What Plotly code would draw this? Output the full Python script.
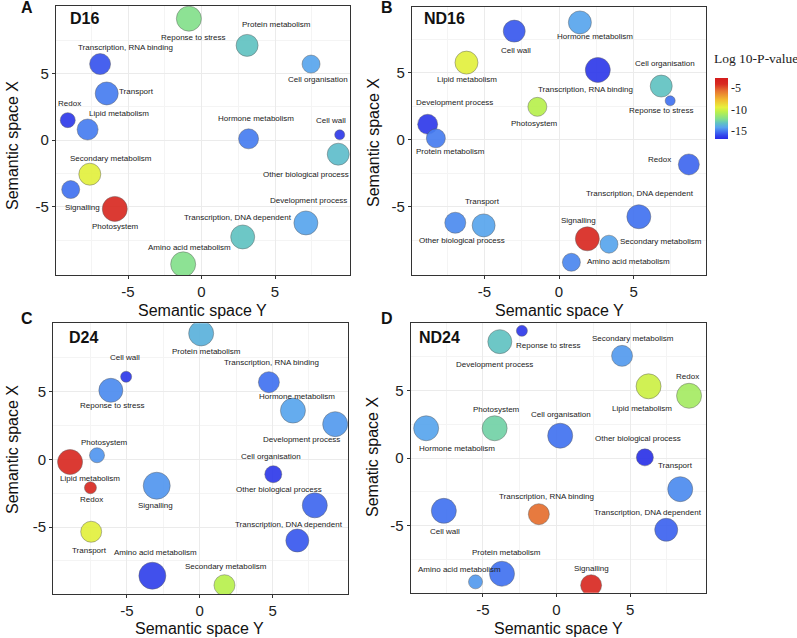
import plotly.graph_objects as go

W, H = 797, 638

# ---------------- DATA ----------------
a_terms = ["Reponse to stress", "Protein metabolism", "Transcription, RNA binding", "Cell organisation",
           "Transport", "Redox", "Lipid metabolism", "Hormone metabolism", "Cell wall",
           "Other biological process", "Secondary metabolism", "Signalling", "Photosystem",
           "Development process", "Transcription, DNA dependent", "Amino acid metabolism"]
a_x = [-0.86, 3.1, -6.9, 7.45, -6.45, -9.1, -7.75, 3.2, 9.4, 9.3, -7.6, -8.9, -5.9, 7.1, 2.8, -1.25]
a_y = [9.1, 7.1, 5.7, 5.7, 3.5, 1.5, 0.8, 0.1, 0.4, -1.05, -2.55, -3.7, -5.15, -6.2, -7.25, -9.3]
a_size = [25, 22, 21, 18, 23, 15, 21, 20, 10, 22, 22, 18, 25, 24, 24, 25]
a_logp = [-12, -13, -15.6, -14, -14.8, -16.2, -14.8, -14.8, -16.2, -13.2, -9.5, -15, -4, -14, -13, -12]

b_terms = ["Cell wall", "Hormone metabolism", "Lipid metabolism", "Transcription, RNA binding",
           "Cell organisation", "Reponse to stress", "Development process", "Photosystem",
           "Protein metabolism", "Redox", "Transcription, DNA dependent", "Transport",
           "Other biological process", "Signalling", "Secondary metabolism", "Amino acid metabolism"]
b_x = [-3.0, 1.4, -6.2, 2.6, 6.85, 7.45, -8.8, -1.45, -8.25, 8.7, 5.35, -5.05, -6.95, 1.9, 3.35, 0.83]
b_y = [8.1, 8.75, 5.75, 5.2, 4.0, 2.9, 1.15, 2.45, 0.1, -1.85, -5.75, -6.4, -6.2, -7.4, -7.8, -9.15]
b_size = [22, 23, 23, 25, 22, 10, 20, 19, 19, 21, 24, 23, 21, 24, 18, 18]
b_logp = [-15.5, -14, -9.5, -16.2, -13, -15, -16.2, -10.5, -14.8, -15.2, -15, -14, -14.5, -4, -14, -14.6]

c_terms = ["Protein metabolism", "Cell wall", "Reponse to stress", "Transcription, RNA binding",
           "Hormone metabolism", "Development process", "Photosystem", "Lipid metabolism", "Redox",
           "Signalling", "Cell organisation", "Other biological process", "Transcription, DNA dependent",
           "Transport", "Amino acid metabolism", "Secondary metabolism"]
c_x = [0.1, -5.05, -6.1, 4.75, 6.4, 9.3, -7.05, -8.9, -7.5, -2.95, 5.05, 7.9, 6.7, -7.45, -3.25, 1.7]
c_y = [9.3, 6.1, 5.1, 5.7, 3.6, 2.6, 0.3, -0.2, -2.1, -1.95, -1.1, -3.4, -6.0, -5.35, -8.6, -9.3]
c_size = [25, 11, 24, 21, 25, 25, 15, 25, 12, 27, 17, 25, 23, 21, 27, 21]
c_logp = [-13.6, -16.2, -14.5, -15, -14, -14.2, -14.3, -4, -4, -14.3, -16.2, -15.2, -15.5, -9.5, -16, -10.5]

d_terms = ["Reponse to stress", "Development process", "Secondary metabolism", "Lipid metabolism",
           "Redox", "Photosystem", "Hormone metabolism", "Cell organisation", "Other biological process",
           "Transport", "Cell wall", "Transcription, RNA binding", "Transcription, DNA dependent",
           "Protein metabolism", "Amino acid metabolism", "Signalling"]
d_x = [-2.35, -3.85, 4.45, 6.25, 9.0, -4.2, -8.85, 0.25, 6.0, 8.4, -7.65, -1.2, 7.45, -3.7, -5.5, 2.35]
d_y = [9.4, 8.6, 7.55, 5.3, 4.6, 2.2, 2.2, 1.65, 0.05, -2.3, -3.9, -4.15, -5.3, -8.55, -9.15, -9.4]
d_size = [11, 24, 21, 25, 25, 25, 25, 25, 17, 25, 25, 21, 23, 25, 14, 21]
d_logp = [-16.2, -13, -14.2, -10, -11, -12.5, -14, -15, -16.4, -14.5, -15, -5.5, -15.3, -15, -14.2, -4]

tick_vals = [-5, 0, 5]
tick_text = ["-5", "0", "5"]
cbar_vals = [-5, -10, -15]
cbar_text = ["-5", "-10", "-15"]

# ---------------- STYLE / LAYOUT ----------------
# label offsets (px) relative to each bubble: (dx, dy_up)
a_off = [(4, -19), (29, 21), (25, 17), (7, -15), (30, 2), (2, 17), (31, 16), (7, 20), (-9, 14), (-32, -20),
         (21, 16), (12, -18), (1, -18), (3, 22), (-5, 19), (6, 17)]
b_off = [(2, -19), (15, -14), (1, -17), (-12, -20), (4, 23), (-9, -10), (27, 22), (-3, -17), (15, -13), (-29, 5),
         (1, 23), (-1, 24), (7, -18), (-9, 18), (52, 3), (57, 1)]
c_off = [(5, -18), (-1, 19), (1, -15), (3, 20), (4, 14), (-34, -15), (7, 13), (20, -16), (1, -12), (-1, -20),
         (-2, 18), (-36, 16), (-8, 16), (-2, -19), (3, 23), (2, 19)]
d_off = [(26, -15), (-5, -23), (11, 17), (-7, -22), (-2, 19), (2, 19), (31, -20), (1, 21), (-7, 19), (-5, 24),
         (1, -21), (8, 18), (-18, 17), (4, 21), (-16, 12), (0, 17)]

# pixel boxes of the panels: (left, right, top, bottom)
boxes = [(56, 350, 6, 275), (412, 706, 7, 275), (53.3, 348.3, 323.3, 594), (410.7, 706, 322.7, 592.7)]
xranges = [[-9.9, 10.1], [-9.85, 9.85], [-10.05, 10.2], [-9.9, 10.15]]
yranges = [[-10.1, 10.05], [-10.1, 9.9], [-9.95, 10.05], [-9.95, 10.0]]

colorscale = [[0.0, '#2828e6'], [0.06, '#3347ec'], [0.12, '#4272f0'], [0.19, '#58a4ee'],
              [0.26, '#60c2c4'], [0.33, '#82e08e'], [0.44, '#b8f04e'], [0.52, '#e8f03c'],
              [0.65, '#f2b830'], [0.79, '#e67230'], [0.9, '#d82a22'], [1.0, '#d41c1c']]

SANS = "Liberation Sans, Arial, sans-serif"
SERIF = "Liberation Serif, Times New Roman, serif"


def px_x(p):
    return p / W


def px_y(p):
    return (H - p) / H


panels = [
    (a_terms, a_x, a_y, a_size, a_logp, a_off, "D16", "A", "Semantic space X"),
    (b_terms, b_x, b_y, b_size, b_logp, b_off, "ND16", "B", "Semantic space X"),
    (c_terms, c_x, c_y, c_size, c_logp, c_off, "D24", "C", "Semantic space X"),
    (d_terms, d_x, d_y, d_size, d_logp, d_off, "ND24", "D", "Sematic space X"),
]
letter_pos = [(27, 7), (387, 8), (27, 318), (387, 318)]
title_pos = [(68, 19), (422, 18), (67, 337), (417, 337)]
xt_pos = [(202, 310), (559, 310), (199, 628), (558, 628)]
yt_pos = [(13, 146), (373, 143), (12, 450), (372, 457)]

fig = go.Figure()
annotations = []
layout_axes = {}


def paper_text(x, y, text, size, family=SANS, xanchor="center", angle=0, color="#111"):
    return dict(x=px_x(x), y=px_y(y), xref="paper", yref="paper", text=text, showarrow=False,
                xanchor=xanchor, yanchor="middle", textangle=angle,
                font=dict(family=family, size=size, color=color))


for i, (terms, xs, ys, sz, lp, off, ptitle, letter, ytitle) in enumerate(panels):
    n = "" if i == 0 else str(i + 1)
    xa, ya = "x" + n, "y" + n
    left, right, top, bottom = boxes[i]
    fig.add_trace(go.Scatter(
        x=xs, y=ys, mode="markers", xaxis=xa, yaxis=ya, text=terms,
        marker=dict(size=sz, sizemode="diameter", color=lp, coloraxis="coloraxis",
                    opacity=0.92, line=dict(color="rgba(80,80,80,0.45)", width=1)),
        hovertemplate="%{text}<br>log10 p = %{marker.color}<extra></extra>",
        showlegend=False))
    for t, xv, yv, (dx, dy) in zip(terms, xs, ys, off):
        annotations.append(dict(x=xv, y=yv, xref=xa, yref=ya, text=t, showarrow=False,
                                xanchor="center", yanchor="middle",
                                xshift=dx, yshift=dy, font=dict(family=SANS, size=8, color="#222")))
    axis_common = dict(showline=True, linecolor="#333", linewidth=1.3, mirror=True,
                       showgrid=True, gridcolor="#ebebeb", gridwidth=1, zeroline=False,
                       tickvals=tick_vals, ticktext=tick_text, ticks="outside", ticklen=3,
                       tickcolor="#333", tickfont=dict(family=SANS, size=15, color="#222"),
                       minor=dict(tickvals=[-7.5, -2.5, 2.5, 7.5], showgrid=True,
                                  gridcolor="#f4f4f4", ticks=""))
    layout_axes["xaxis" + n] = dict(axis_common, domain=[px_x(left), px_x(right)],
                                    range=xranges[i], anchor=ya)
    layout_axes["yaxis" + n] = dict(axis_common, domain=[px_y(bottom), px_y(top)],
                                    range=yranges[i], anchor=xa)
    lx, ly = letter_pos[i]
    annotations.append(paper_text(lx, ly, "<b>%s</b>" % letter, 16))
    tx, ty = title_pos[i]
    annotations.append(paper_text(tx, ty, "<b>%s</b>" % ptitle, 16, xanchor="left"))
    xx, xy = xt_pos[i]
    annotations.append(paper_text(xx, xy, "Semantic space Y", 16))
    yx, yy = yt_pos[i]
    annotations.append(paper_text(yx, yy, ytitle, 16, angle=-90))

annotations.append(paper_text(712, 58, "Log 10-P-value", 13.5, family=SERIF, xanchor="left", color="#222"))

fig.update_layout(
    width=W, height=H, margin=dict(l=0, r=0, t=0, b=0),
    paper_bgcolor="white", plot_bgcolor="white",
    annotations=annotations,
    coloraxis=dict(colorscale=colorscale, cmin=-16.7, cmax=-2.6,
                   colorbar=dict(x=px_x(715), xanchor="left", y=px_y(108), yanchor="middle",
                                 thickness=13, thicknessmode="pixels", len=61, lenmode="pixels",
                                 xpad=0, ypad=0, outlinewidth=0, tickvals=cbar_vals, ticktext=cbar_text,
                                 ticks="", tickfont=dict(family=SERIF, size=12, color="#222"))),
    **layout_axes)

fig.write_html("out.html", config={"displayModeBar": False},
               post_script="document.body.style.margin='0';document.body.style.overflow='hidden';")
